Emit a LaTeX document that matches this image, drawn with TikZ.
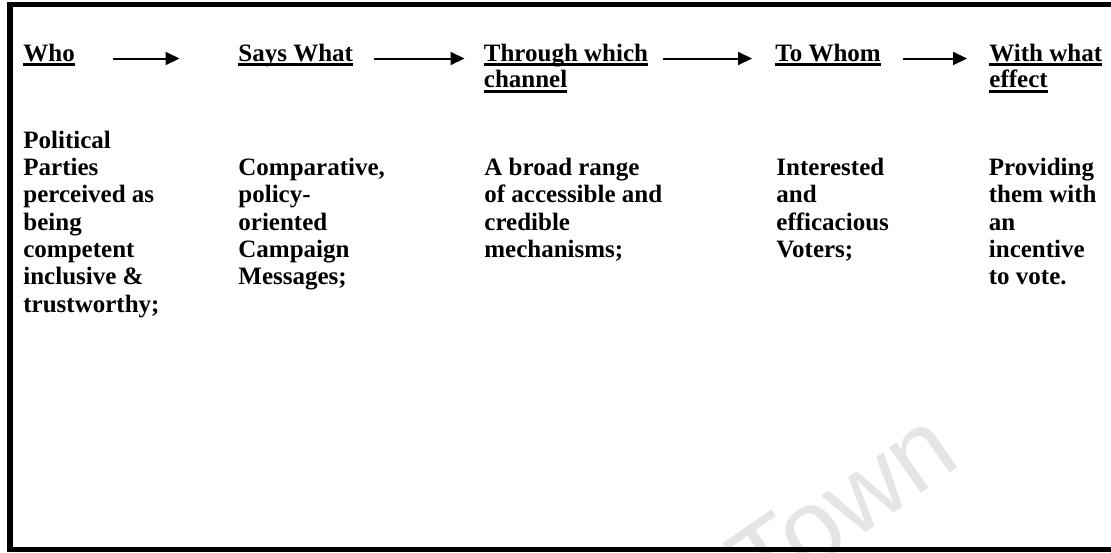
\documentclass[tikz,border=0pt]{standalone}
\usepackage{fontspec}
\setmainfont{Liberation Serif}
\newfontfamily\wmfont{Liberation Sans}
\usetikzlibrary{arrows.meta,calc}
\newcommand\ulw[1]{\leavevmode\setbox0\hbox{#1}\rlap{\rule[-2.5pt]{\wd0}{1.35pt}}\box0}
\tikzset{
  hdr/.style={anchor=base west, inner sep=0pt, font=\bfseries\fontsize{12.5pt}{13.35pt}\selectfont},
  bodytext/.style={anchor=base west, inner sep=0pt, font=\bfseries\fontsize{12.5pt}{13.68pt}\selectfont},
  flow/.style={line width=1pt, -{Triangle[length=7pt,width=6.5pt]}},
  framestyle/.style={line width=2.75pt, line join=miter},
  wm/.style={anchor=base west, inner sep=0pt, text=black!10, font=\wmfont\fontsize{52.5pt}{60pt}\selectfont, rotate=35}
}
\begin{document}
\begin{tikzpicture}[x=0.5pt,y=-0.5pt]
\useasboundingbox (0,0) rectangle (1111,552);
\clip (0,0) rectangle (1111,552);
\fill[white] (0,0) rectangle (1111,552);
% watermark
\node[wm] (wmark) at (762,605) {Town};
% frame (open on the right)
\coordinate (ftr) at (1125,4.5);
\coordinate (ftl) at (10,4.5);
\coordinate (fbl) at (10,549.5);
\coordinate (fbr) at (1125,549.5);
\draw[framestyle] (ftr) -- (ftl) -- (fbl) -- (fbr);
% headers
\node[hdr] (who) at (23,61) {\parbox[t]{150pt}{\ulw{Who}}};
\node[hdr] (says) at (238,61) {\parbox[t]{150pt}{\ulw{Says What}}};
\node[hdr] (through) at (483.5,61) {\parbox[t]{150pt}{\ulw{Through which}\\\ulw{channel}}};
\node[hdr] (towhom) at (775,61) {\parbox[t]{100pt}{\ulw{To Whom}}};
\node[hdr] (effect) at (989,61) {\parbox[t]{100pt}{\ulw{With what}\\\ulw{effect}}};
% arrows
\coordinate (a1s) at (112.7,58.5);
\coordinate (a1e) at (179.5,58.5);
\coordinate (a2s) at (374.3,58.5);
\coordinate (a2e) at (464.5,58.5);
\coordinate (a3s) at (663,58.5);
\coordinate (a3e) at (752,58.5);
\coordinate (a4s) at (903.3,58.5);
\coordinate (a4e) at (967,58.5);
\draw[flow] (a1s) -- (a1e);
\draw[flow] (a2s) -- (a2e);
\draw[flow] (a3s) -- (a3e);
\draw[flow] (a4s) -- (a4e);
% body texts
\node[bodytext] (c1) at (23,148) {\parbox[t]{150pt}{Political\\Parties\\perceived as\\being\\competent\\inclusive \&\\trustworthy;}};
\node[bodytext] (c2) at (238,175.5) {\parbox[t]{150pt}{Comparative,\\policy-\\oriented\\Campaign\\Messages;}};
\node[bodytext] (c3) at (484,175.5) {\parbox[t]{150pt}{A broad range\\of accessible and\\credible\\mechanisms;}};
\node[bodytext] (c4) at (776,175.5) {\parbox[t]{100pt}{Interested\\and\\efficacious\\Voters;}};
\node[bodytext] (c5) at (988.5,175.5) {\parbox[t]{100pt}{Providing\\them with\\an\\incentive\\to vote.}};
\end{tikzpicture}
\end{document}
